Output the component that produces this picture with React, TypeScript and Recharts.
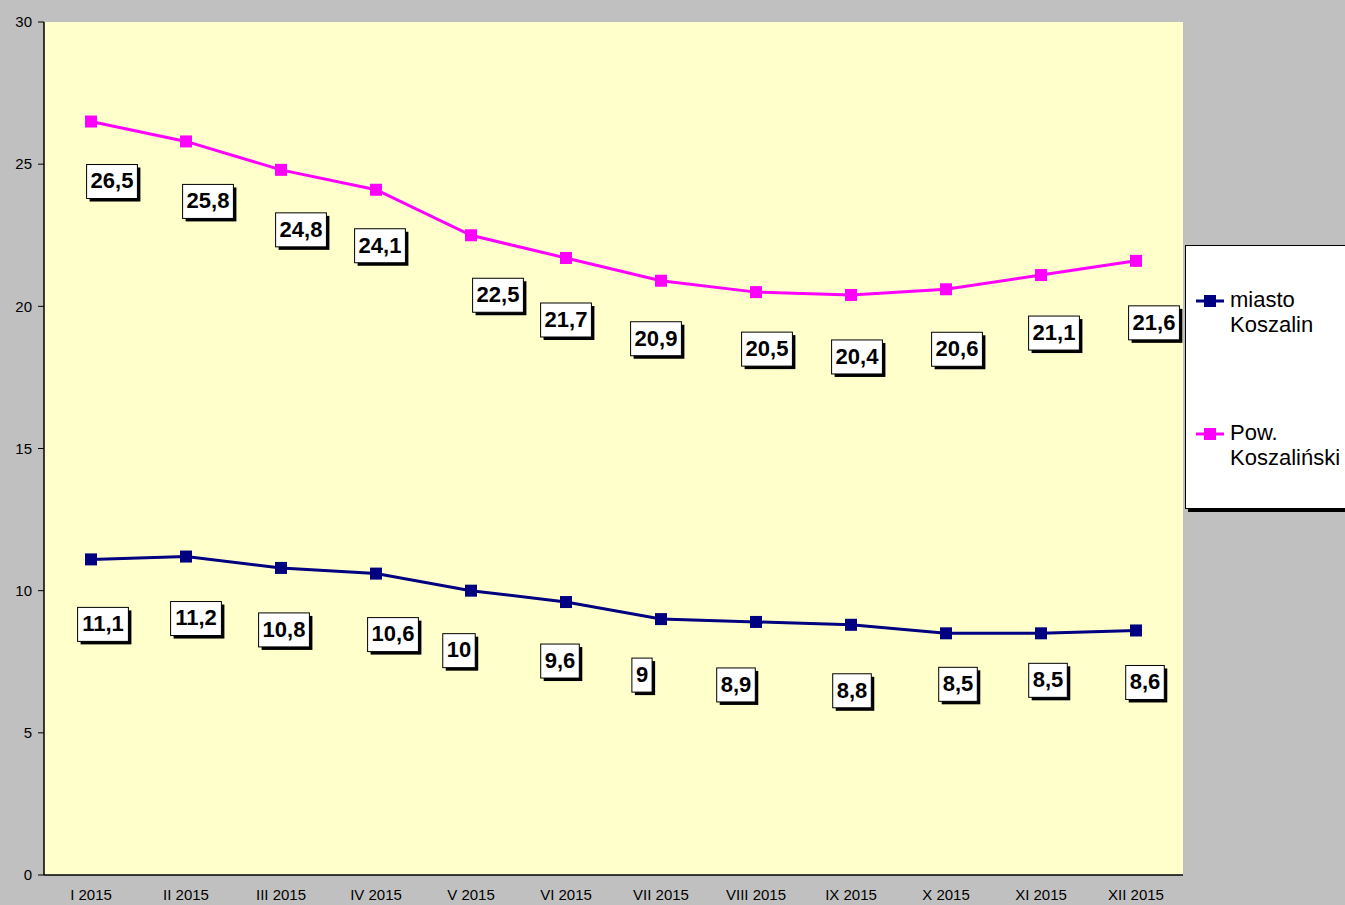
import React from "react";
import { LineChart, Line, XAxis, YAxis, CartesianGrid, LabelList } from "recharts";

const months = ["I 2015", "II 2015", "III 2015", "IV 2015", "V 2015", "VI 2015", "VII 2015", "VIII 2015", "IX 2015", "X 2015", "XI 2015", "XII 2015"];
const koszalin = [11.1, 11.2, 10.8, 10.6, 10, 9.6, 9, 8.9, 8.8, 8.5, 8.5, 8.6];
const powiat = [26.5, 25.8, 24.8, 24.1, 22.5, 21.7, 20.9, 20.5, 20.4, 20.6, 21.1, 21.6];
const yTicks = [0, 5, 10, 15, 20, 25, 30];

// label box offsets from the point (px), as placed in the original
const powiatLabelDx = [21, 22, 20, 4, 27, 0, -5, 11, 6, 11, 13, 18];
const powiatLabelDy = [60, 60, 60, 56, 60, 62, 58, 57, 62, 60, 58, 62];
const koszalinLabelDx = [12, 10, 3, 17, -12, -6, -19, -20, 1, 12, 7, 9];
const koszalinLabelDy = [65, 62, 62, 61, 60, 59, 56, 63, 66, 51, 47, 52];

const NAVY = "#000080";
const PINK = "#ff00ff";
const FONT = "'Liberation Sans', Arial, sans-serif";

const data = months.map((m, i) => ({ month: m, koszalin: koszalin[i], powiat: powiat[i] }));

const fmt = (v: number) => String(v).replace(".", ",");

function textWidth(s: string, size: number) {
  let w = 0;
  for (const c of s) w += c === "," ? 0.278 * size : 0.556 * size;
  return w;
}

function makeLabel(dxs: number[], dys: number[]) {
  return (props: any) => {
    const { x, y, value, index } = props;
    const text = fmt(value);
    const size = 22;
    const w = textWidth(text, size) + 8;
    const h = 34;
    const cx = x + dxs[index];
    const cy = y + dys[index];
    return (
      <g key={`lbl-${index}`}>
        <rect x={cx - w / 2 + 3} y={cy - h / 2 + 3} width={w} height={h} fill="#000" />
        <rect x={cx - w / 2} y={cy - h / 2} width={w} height={h} fill="#fff" stroke="#000" strokeWidth={1} />
        <text x={cx} y={cy + 1} textAnchor="middle" dominantBaseline="middle" fontFamily={FONT} fontWeight="bold" fontSize={size} fill="#000">
          {text}
        </text>
      </g>
    );
  };
}

function squareDot(color: string) {
  return (props: any) => {
    const { cx, cy, index } = props;
    return <rect key={`dot-${index}`} x={cx - 6} y={cy - 6} width={12} height={12} fill={color} />;
  };
}

function LegendBox() {
  const items = [
    { color: NAVY, lines: ["miasto", "Koszalin"] },
    { color: PINK, lines: ["Pow.", "Koszaliński"] },
  ];
  return (
    <div
      style={{
        position: "absolute",
        left: 1185,
        top: 245,
        width: 170,
        height: 264,
        background: "#fff",
        border: "1px solid #000",
        boxShadow: "3px 3px 0 #000",
        fontFamily: FONT,
        fontSize: 22,
        color: "#000",
        boxSizing: "border-box",
      }}
    >
      {items.map((it, i) => (
        <div key={i} style={{ position: "absolute", left: 9, top: 41 + i * 133, display: "flex", alignItems: "flex-start" }}>
          <svg width={30} height={24} style={{ marginTop: 1 }}>
            <line x1={1} x2={29} y1={13} y2={13} stroke={it.color} strokeWidth={3} />
            <rect x={9} y={7} width={12} height={12} fill={it.color} />
          </svg>
          <div style={{ marginLeft: 5, lineHeight: "25px" }}>
            {it.lines.map((l) => (
              <div key={l}>{l}</div>
            ))}
          </div>
        </div>
      ))}
    </div>
  );
}

export default function App() {
  return (
    <div style={{ position: "absolute", left: 0, top: 0, width: 1345, height: 905, background: "#c0c0c0", overflow: "hidden" }}>
      <LineChart width={1345} height={905} data={data} margin={{ top: 22, right: 162, bottom: 0, left: 0 }}>
        <CartesianGrid horizontal={false} vertical={false} fill="#ffffcc" />
        <XAxis
          dataKey="month"
          axisLine={{ stroke: "#000", strokeWidth: 1.5 }}
          tickLine={false}
          tickMargin={8}
          height={30}
          interval={0}
          padding={{ left: 47, right: 47 }}
          tick={{ fill: "#000", fontSize: 15, fontFamily: FONT }}
        />
        <XAxis xAxisId="top" dataKey="month" orientation="top" height={0} tick={false} tickLine={false} axisLine={{ stroke: "#555" }} />
        <YAxis
          domain={[0, 30]}
          ticks={yTicks}
          width={44}
          axisLine={{ stroke: "#000", strokeWidth: 1.5 }}
          tickLine={{ stroke: "#000" }}
          tickSize={6}
          tickMargin={6}
          tick={{ fill: "#000", fontSize: 15, fontFamily: FONT }}
        />
        <YAxis yAxisId="right" orientation="right" width={0} tick={false} tickLine={false} axisLine={{ stroke: "#555" }} />
        <Line
          dataKey="koszalin"
          stroke={NAVY}
          strokeWidth={3}
          dot={squareDot(NAVY)}
          activeDot={false}
          isAnimationActive={false}
        >
          <LabelList dataKey="koszalin" content={makeLabel(koszalinLabelDx, koszalinLabelDy)} />
        </Line>
        <Line
          dataKey="powiat"
          stroke={PINK}
          strokeWidth={3}
          dot={squareDot(PINK)}
          activeDot={false}
          isAnimationActive={false}
        >
          <LabelList dataKey="powiat" content={makeLabel(powiatLabelDx, powiatLabelDy)} />
        </Line>
      </LineChart>
      <LegendBox />
    </div>
  );
}
